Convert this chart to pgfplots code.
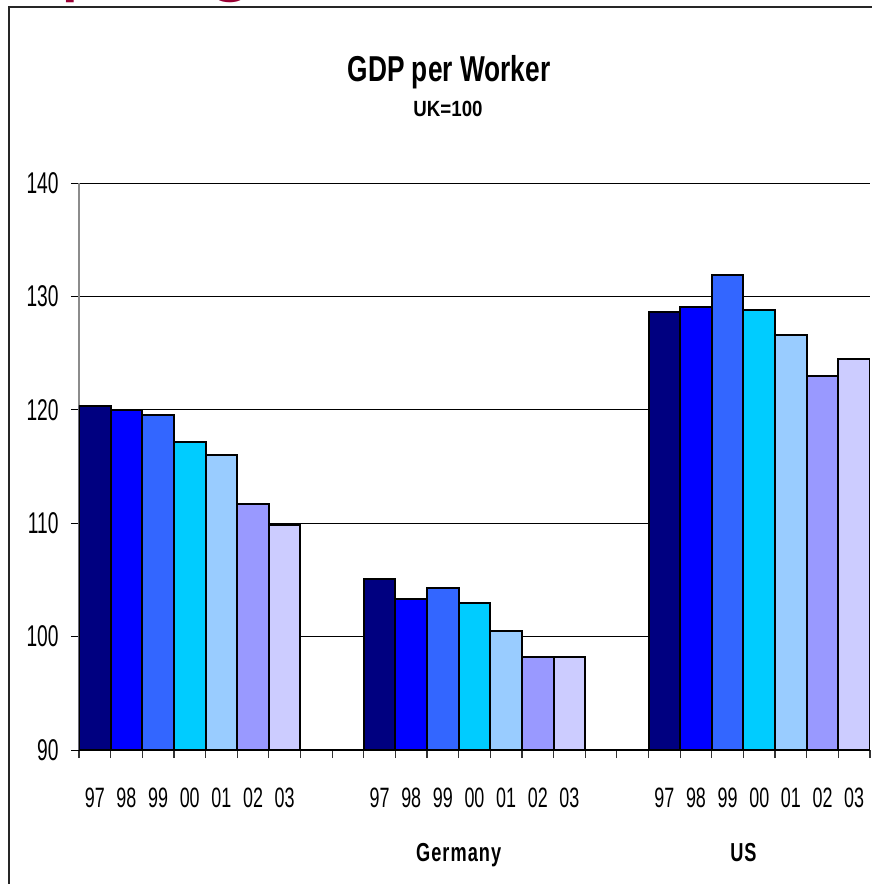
\documentclass[border=0pt]{standalone}
\usepackage{fontspec}
\setmainfont{Liberation Sans}[FakeStretch=0.64]
\newfontfamily\titlefont{Liberation Sans}[FakeStretch=0.73]
\newfontfamily\subfont{Liberation Sans}[FakeStretch=0.85]
\newfontfamily\groupfont{Liberation Sans}[FakeStretch=0.70,LetterSpace=4]
\newfontfamily\redfont{Liberation Sans}
\usepackage{pgfplots}
\pgfplotsset{compat=1.18}
\definecolor{c97}{HTML}{000080}
\definecolor{c98}{HTML}{0000FF}
\definecolor{c99}{HTML}{3366FF}
\definecolor{c00}{HTML}{00CCFF}
\definecolor{c01}{HTML}{99CCFF}
\definecolor{c02}{HTML}{9999FF}
\definecolor{c03}{HTML}{CCCCFF}
\definecolor{slidered}{HTML}{990033}
\begin{document}
\begin{tikzpicture}
\begin{axis}[
  anchor=south west,
  scale only axis, width=395.5pt, height=283.5pt,
  xmin=-0.5, xmax=24.5, ymin=90, ymax=140,
  axis x line*=bottom, axis y line*=left,
  axis line style={-},
  x axis line style={black, line width=1pt},
  y axis line style={black!45, line width=0.8pt},
  ytick={90,100,...,140},
  ymajorgrids, grid style={black, line width=0.5pt},
  xtick={-0.5,0.5,...,24.5},
  xticklabels={,,,,,,,,,,,,{\groupfont\bfseries\fontsize{13}{13}\selectfont Germany},,,,,,,,,{\groupfont\bfseries\fontsize{13}{13}\selectfont US},,,,},
  xticklabel style={font=\fontsize{14}{14}\selectfont, anchor=base, yshift=-51.5pt, inner sep=0pt},
  tick align=outside, major tick length=4pt,
  x tick style={black!80, line width=0.6pt},
  y tick style={black, line width=0.5pt},
  yticklabel style={font=\fontsize{15}{15}\selectfont, inner sep=0pt, xshift=-6pt},
  extra x ticks={0,1,2,3,4,5,6,9,10,11,12,13,14,15,18,19,20,21,22,23,24},
  extra x tick labels={97,98,99,00,01,02,03,97,98,99,00,01,02,03,97,98,99,00,01,02,03},
  extra x tick style={major tick length=0pt, tick label style={font=\fontsize{14.5}{14.5}\selectfont, yshift=23pt}},
  /pgf/number format/assume math mode=true,
]
\pgfplotsset{every axis plot/.append style={ybar, bar width=1, bar shift=0pt, draw=black, line width=1pt}}
\addplot[fill=c97] coordinates {(0,120.3) (9,105.1) (18,128.6)};
\addplot[fill=c98] coordinates {(1,120.0) (10,103.3) (19,129.1)};
\addplot[fill=c99] coordinates {(2,119.5) (11,104.3) (20,131.9)};
\addplot[fill=c00] coordinates {(3,117.2) (12,103.0) (21,128.8)};
\addplot[fill=c01] coordinates {(4,116.0) (13,100.5) (22,126.6)};
\addplot[fill=c02] coordinates {(5,111.7) (14,98.2) (23,123.0)};
\addplot[fill=c03] coordinates {(6,109.8) (15,98.2) (24,124.5)};
\draw[black, line width=1pt] (rel axis cs:0,0) -- (rel axis cs:1,0);
\end{axis}
\begin{scope}[x=0.5pt,y=0.5pt,shift={(-79,-134)}]
% cropped slide title fragments
\node[anchor=base west, inner sep=0pt, text=slidered, font=\redfont\fontsize{44}{44}\selectfont] at (60,899) {p};
\node[anchor=base west, inner sep=0pt, text=slidered, font=\redfont\fontsize{44}{44}\selectfont] at (206,899) {g};
% frame
\draw[black!85, line width=1pt] (9,-10) -- (9,877) -- (895,877);
% titles
\node[anchor=base, inner sep=0pt, font=\titlefont\bfseries\fontsize{18}{18}\selectfont] at (449,802) {GDP per Worker};
\node[anchor=base, inner sep=0pt, font=\subfont\bfseries\fontsize{11}{11}\selectfont] at (448,767) {UK=100};
\pgfresetboundingbox
\path[use as bounding box] (0,0) rectangle (872,884);
\end{scope}
\end{tikzpicture}
\end{document}
